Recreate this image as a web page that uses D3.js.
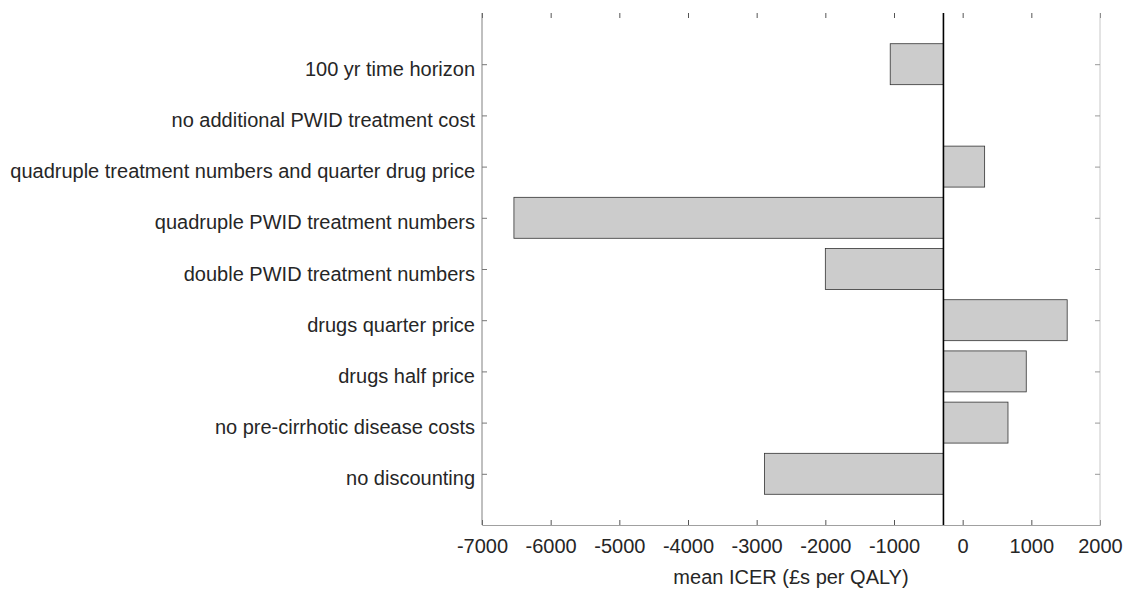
<!DOCTYPE html>
<html>
<head>
<meta charset="utf-8">
<script src="https://cdn.jsdelivr.net/npm/d3@7"></script>
<style>
  html, body { margin: 0; padding: 0; background: #fff; }
  svg { display: block; font-family: "Liberation Sans", Arial, sans-serif; }
</style>
</head>
<body>
<svg id="chart" width="1136" height="597"></svg>
<script>
const categories = [
  "100 yr time horizon",
  "no additional PWID treatment cost",
  "quadruple treatment numbers and quarter drug price",
  "quadruple PWID treatment numbers",
  "double PWID treatment numbers",
  "drugs quarter price",
  "drugs half price",
  "no pre-cirrhotic disease costs",
  "no discounting"
];
const baseCaseICER = -280;
const scenarioICER = [-1055, -280, 320, -6535, -2000, 1522, 926, 660, -2887];
const xTicks = [-7000, -6000, -5000, -4000, -3000, -2000, -1000, 0, 1000, 2000];
const xLabel = "mean ICER (£s per QALY)";

(function () {
const svg = d3.select("#chart");
const pL = 482, pR = 1100, pT = 13, pB = 525;
const x = d3.scaleLinear().domain([-7000, 2000]).range([pL, pR]);
const y = d3.scaleLinear().domain([0, categories.length + 1]).range([pT, pB]);
const barH = y(0.8) - y(0);
const textColor = "#262626";
const fs = 20;

// bars
svg.append("g").selectAll("rect").data(scenarioICER).join("rect")
  .attr("x", d => x(Math.min(d, baseCaseICER)))
  .attr("width", d => Math.abs(x(d) - x(baseCaseICER)))
  .attr("y", (d, i) => y(i + 1) - barH / 2)
  .attr("height", barH)
  .attr("fill", "#cccccc")
  .attr("stroke", d => d === baseCaseICER ? "none" : "#333")
  .attr("stroke-width", 0.8);

// bottom axis
const gx = svg.append("g").attr("transform", `translate(0,${pB})`)
  .call(d3.axisBottom(x).tickValues(xTicks).tickSize(-5).tickPadding(14).tickFormat(d3.format("d")));
gx.select(".domain").attr("stroke", "#a0a0a0");
gx.selectAll(".tick line").attr("stroke", "#555");
gx.selectAll(".tick text").attr("fill", textColor).attr("font-size", fs)
  .attr("font-family", "Liberation Sans, Arial, sans-serif").text(d => d < 0 ? "-" + Math.abs(d) : d);

// top ticks (no line)
const gt = svg.append("g").attr("transform", `translate(0,${pT})`)
  .call(d3.axisTop(x).tickValues(xTicks).tickSize(-5).tickFormat(""));
gt.select(".domain").remove();
gt.selectAll(".tick line").attr("stroke", "#555");

// left axis
const gy = svg.append("g").attr("transform", `translate(${pL},0)`)
  .call(d3.axisLeft(y).tickValues(d3.range(1, categories.length + 1)).tickSize(-5).tickPadding(7)
    .tickFormat(d => categories[d - 1]));
gy.select(".domain").attr("stroke", "#808080").attr("d", `M0,${pT}V${pB}`);
gy.selectAll(".tick line").attr("stroke", "#777");
gy.selectAll(".tick text").attr("fill", textColor).attr("font-size", fs)
  .attr("font-family", "Liberation Sans, Arial, sans-serif").attr("dy", "0.55em");

// right axis
const gr = svg.append("g").attr("transform", `translate(${pR},0)`)
  .call(d3.axisRight(y).tickValues(d3.range(1, categories.length + 1)).tickSize(-5).tickFormat(""));
gr.select(".domain").attr("stroke", "#c8c8c8").attr("d", `M0,${pT}V${pB}`);
gr.selectAll(".tick line").attr("stroke", "#999");

// base case line
svg.append("line")
  .attr("x1", x(baseCaseICER)).attr("x2", x(baseCaseICER))
  .attr("y1", pT).attr("y2", pB)
  .attr("stroke", "#000").attr("stroke-width", 1.6);

// x label
svg.append("text")
  .attr("x", (pL + pR) / 2).attr("y", 584)
  .attr("text-anchor", "middle")
  .attr("fill", textColor).attr("font-size", fs)
  .text(xLabel);
})();
</script>
</body>
</html>
